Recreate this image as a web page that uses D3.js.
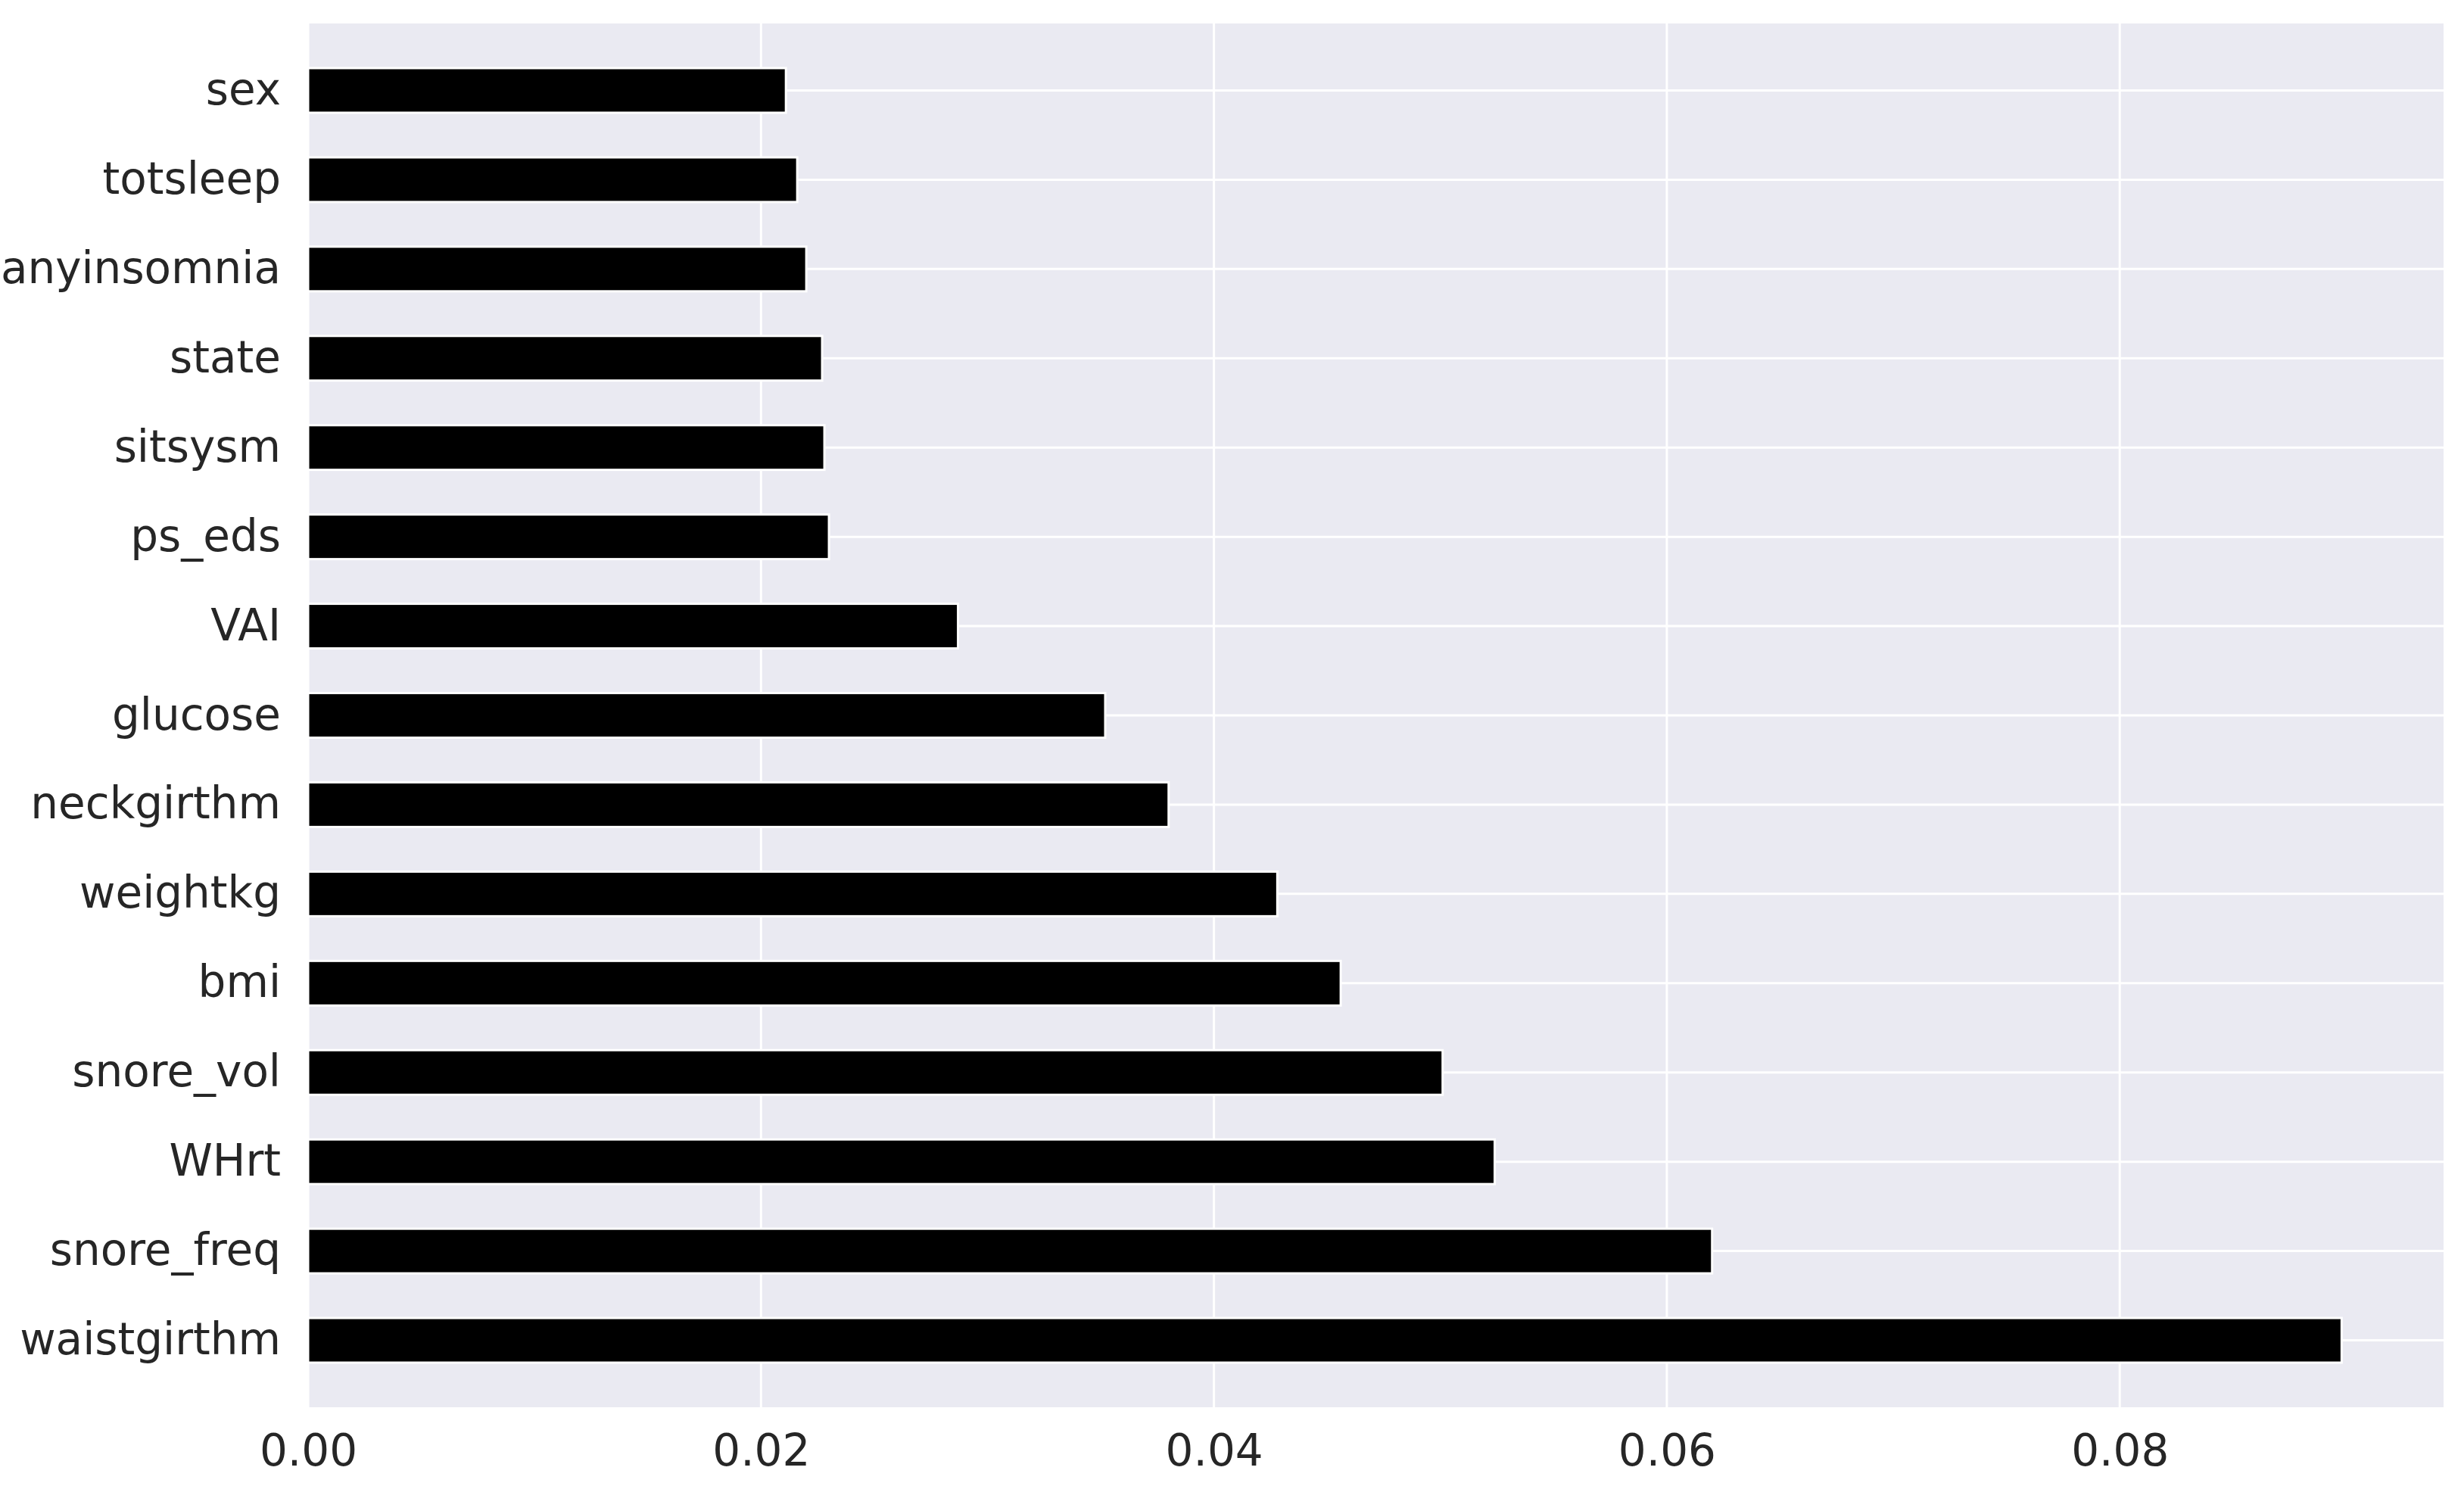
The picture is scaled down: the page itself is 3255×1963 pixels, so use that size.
<!DOCTYPE html>
<html lang="en">
<head>
<meta charset="UTF-8">
<title>Feature importance</title>
<script src="https://d3js.org/d3.v7.min.js"></script>
<style>
  body { margin: 0; background: #fff; }
</style>
</head>
<body>
<script>
// top to bottom
const features = ["sex", "totsleep", "anyinsomnia", "state", "sitsysm", "ps_eds", "VAI", "glucose",
  "neckgirthm", "weightkg", "bmi", "snore_vol", "WHrt", "snore_freq", "waistgirthm"];
const importance = [0.0211, 0.0216, 0.0220, 0.0227, 0.0228, 0.0230, 0.0287, 0.0352,
  0.0380, 0.0428, 0.0456, 0.0501, 0.0524, 0.0620, 0.0898];
const xTicks = [0, 0.02, 0.04, 0.06, 0.08];

const width = 3255, height = 1963;
const margin = { top: 31, right: 27, bottom: 104, left: 407 };
const chartWidth = width - margin.left - margin.right;
const chartHeight = height - margin.top - margin.bottom;

const svg = d3.select("body").append("svg")
  .attr("width", width).attr("height", height);

const chart = svg.append("g")
  .attr("transform", `translate(${margin.left}, ${margin.top})`);

const xScale = d3.scaleLinear().domain([0, 0.0943]).range([0, chartWidth]);
const yScale = d3.scaleBand().domain(features).range([0, chartHeight]).padding(0.5);

chart.append("rect")
  .attr("width", chartWidth).attr("height", chartHeight)
  .attr("fill", "#eaeaf2");

// gridlines
chart.selectAll(".vgrid").data(xTicks).enter().append("line")
  .attr("x1", d => xScale(d)).attr("x2", d => xScale(d))
  .attr("y1", 0).attr("y2", chartHeight)
  .attr("stroke", "#fff").attr("stroke-width", 3);
chart.selectAll(".hgrid").data(features).enter().append("line")
  .attr("x1", 0).attr("x2", chartWidth)
  .attr("y1", d => yScale(d) + yScale.bandwidth() / 2)
  .attr("y2", d => yScale(d) + yScale.bandwidth() / 2)
  .attr("stroke", "#fff").attr("stroke-width", 3);

chart.selectAll(".bar").data(features).enter().append("rect")
  .attr("x", 0)
  .attr("y", d => yScale(d))
  .attr("width", (d, i) => xScale(importance[i]))
  .attr("height", yScale.bandwidth())
  .attr("fill", "#000").attr("stroke", "#fff").attr("stroke-width", 3);

const font = "DejaVu Sans, sans-serif";

chart.append("g")
  .attr("transform", `translate(0, ${chartHeight})`)
  .call(d3.axisBottom(xScale).tickValues(xTicks).tickFormat(d3.format(".2f")).tickSize(0).tickPadding(36))
  .call(g => g.select(".domain").remove())
  .selectAll("text").attr("font-family", font).attr("font-size", 58).attr("fill", "#262626");

chart.append("g")
  .call(d3.axisLeft(yScale).tickSize(0).tickPadding(36))
  .call(g => g.select(".domain").remove())
  .selectAll("text").attr("font-family", font).attr("font-size", 58).attr("fill", "#262626");
</script>
</body>
</html>
